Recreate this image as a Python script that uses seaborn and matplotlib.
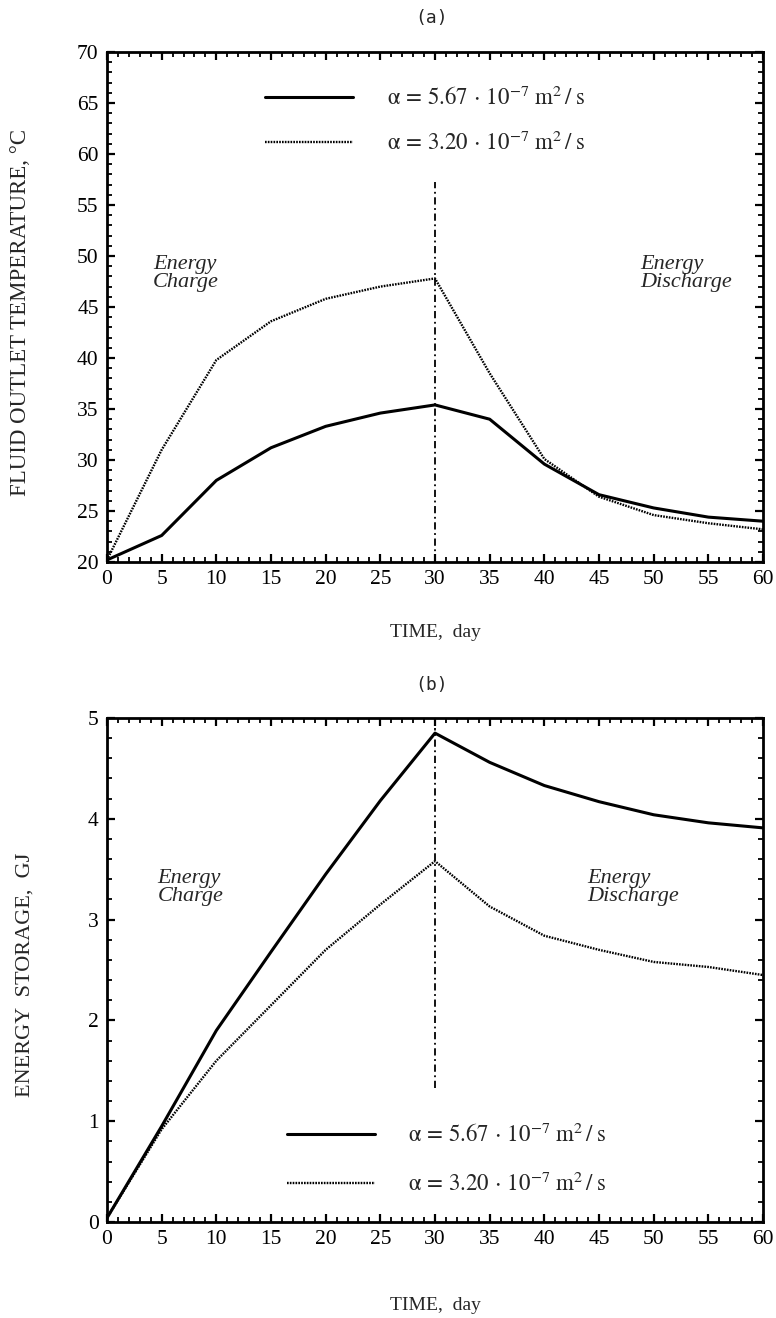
import numpy as np
import pandas as pd
import matplotlib
matplotlib.use("Agg")
import matplotlib.pyplot as plt
import seaborn as sns
from matplotlib.ticker import MultipleLocator

# Time axis (days) and the two diffusivity cases
days = [0, 5, 10, 15, 20, 25, 30, 35, 40, 45, 50, 55, 60]
series_names = [r"$\mathrm{\alpha}\,=\,5.67\,\cdot\,10^{-7}\ \mathrm{m}^2\,/\;\mathrm{s}$",
                r"$\mathrm{\alpha}\,=\,3.20\,\cdot\,10^{-7}\ \mathrm{m}^2\,/\;\mathrm{s}$"]

# (a) fluid outlet temperature, degC
temp_high_alpha = [20.2, 22.6, 28.0, 31.2, 33.3, 34.6, 35.4, 34.0, 29.6, 26.6, 25.3, 24.4, 24.0]
temp_low_alpha = [20.2, 31.0, 39.8, 43.6, 45.8, 47.0, 47.8, 38.5, 30.1, 26.4, 24.6, 23.8, 23.2]

# (b) energy storage, GJ
store_high_alpha = [0.04, 0.95, 1.90, 2.68, 3.45, 4.18, 4.85, 4.56, 4.33, 4.17, 4.04, 3.96, 3.91]
store_low_alpha = [0.04, 0.92, 1.60, 2.15, 2.70, 3.15, 3.58, 3.13, 2.84, 2.70, 2.58, 2.53, 2.45]

sns.set_theme(style="ticks")
plt.rcParams["font.family"] = ["Liberation Serif", "DejaVu Serif"]
plt.rcParams["mathtext.fontset"] = "stix"

fig = plt.figure(figsize=(7.76, 13.18), dpi=100)
W, H = 776, 1318
ax_a = fig.add_axes([107 / W, 1 - 562 / H, 656 / W, 510 / H])
ax_b = fig.add_axes([107 / W, 1 - 1222 / H, 656 / W, 504 / H])


def frame(days, a, b):
    return pd.DataFrame({
        "day": list(days) * 2,
        "value": list(a) + list(b),
        "series": [series_names[0]] * len(days) + [series_names[1]] * len(days),
    })


palette = {series_names[0]: "black", series_names[1]: "black"}
dashes = {series_names[0]: "", series_names[1]: (0.7, 0.5)}
sizes = {series_names[0]: 2.2, series_names[1]: 1.7}


def draw(ax, df):
    sns.lineplot(data=df, x="day", y="value", hue="series", style="series",
                 size="series", palette=palette, dashes=dashes, sizes=sizes,
                 legend=False, ax=ax)


def style_axes(ax, ymin, ymax, ymajor, yminor):
    ax.set_xlim(0, 60)
    ax.set_ylim(ymin, ymax)
    ax.xaxis.set_major_locator(MultipleLocator(5))
    ax.xaxis.set_minor_locator(MultipleLocator(1))
    ax.yaxis.set_major_locator(MultipleLocator(ymajor))
    ax.yaxis.set_minor_locator(MultipleLocator(yminor))
    ax.tick_params(which="both", direction="in", top=True, right=True,
                   colors="black", labelsize=15.5, pad=6)
    ax.tick_params(which="major", length=6, width=1.6)
    ax.tick_params(which="minor", length=3.5, width=1.3)
    for sp in ax.spines.values():
        sp.set_linewidth(2.0)
        sp.set_color("black")
    ax.set_xlabel("TIME,  day", fontsize=14)


def add_legend(ax, anchor, spacing):
    handles = ax.get_lines()[:2]
    ax.legend(handles, series_names, loc="upper left", bbox_to_anchor=anchor,
              frameon=False, fontsize=16.5, handlelength=3.85, handletextpad=1.45,
              labelspacing=spacing, borderpad=0, borderaxespad=0)


# ---- (a) outlet temperature ----
draw(ax_a, frame(days, temp_high_alpha, temp_low_alpha))
ax_a.vlines(30, 20, 57.3, colors="black", linewidth=1.3, linestyles=(0, (4, 2, 1, 2)))
style_axes(ax_a, 20, 70, 5, 1)
ax_a.set_ylabel("FLUID OUTLET TEMPERATURE, °C", fontsize=16.5)
ax_a.yaxis.set_label_coords(-0.116, 0.49)
ax_a.xaxis.set_label_coords(0.5, -0.122)
add_legend(ax_a, (0.241, 0.931), 0.95)
ax_a.text(4.2, 48.3, "Energy\nCharge", style="italic", fontsize=16,
          ha="left", va="center", linespacing=0.95)
ax_a.text(48.8, 48.3, "Energy\nDischarge", style="italic", fontsize=16,
          ha="left", va="center", linespacing=0.95)

# ---- (b) energy storage ----
draw(ax_b, frame(days, store_high_alpha, store_low_alpha))
ax_b.vlines(30, 1.33, 4.9, colors="black", linewidth=1.3, linestyles=(0, (4, 2, 1, 2)))
style_axes(ax_b, 0, 5, 1, 0.2)
ax_b.set_ylabel("ENERGY  STORAGE,  GJ", fontsize=16)
ax_b.yaxis.set_label_coords(-0.110, 0.49)
ax_b.xaxis.set_label_coords(0.5, -0.149)
add_legend(ax_b, (0.274, 0.194), 1.11)
ax_b.text(4.6, 3.32, "Energy\nCharge", style="italic", fontsize=16,
          ha="left", va="center", linespacing=0.95)
ax_b.text(43.9, 3.32, "Energy\nDischarge", style="italic", fontsize=16,
          ha="left", va="center", linespacing=0.95)

fig.text(432 / W, 1 - 18 / H, "(a)", family="DejaVu Sans Mono", fontsize=13,
         ha="center", va="center")
fig.text(432 / W, 1 - 685 / H, "(b)", family="DejaVu Sans Mono", fontsize=13,
         ha="center", va="center")

fig.savefig("out.png", dpi=100, facecolor="white")
